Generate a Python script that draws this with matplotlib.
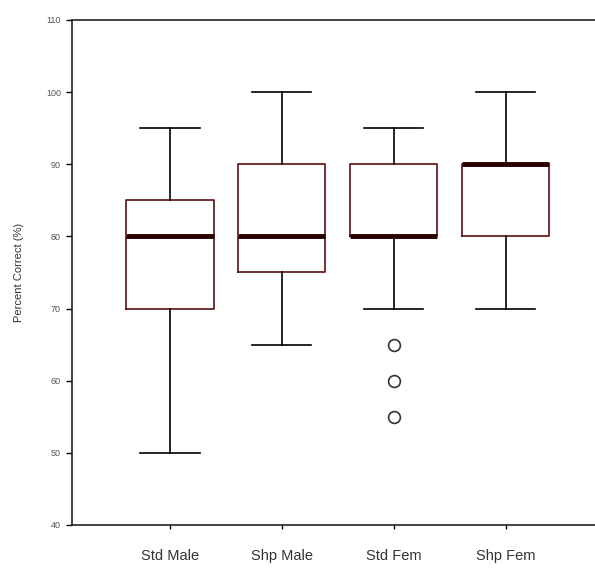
import matplotlib
matplotlib.use('Agg')
import matplotlib.pyplot as plt

plt.rcParams['font.family'] = ['Liberation Sans', 'DejaVu Sans']

# group labels and box statistics
groups = ['Std Male', 'Shp Male', 'Std Fem', 'Shp Fem']
whislo = [50, 65, 70, 70]
q1 = [70, 75, 80, 80]
med = [80, 80, 80, 90]
q3 = [85, 90, 90, 90]
whishi = [95, 100, 95, 100]
fliers = [[], [], [65, 60, 55], []]

stats = []
for i in range(len(groups)):
    stats.append({'label': groups[i], 'whislo': whislo[i], 'q1': q1[i], 'med': med[i],
                  'q3': q3[i], 'whishi': whishi[i], 'fliers': fliers[i]})

fig = plt.figure(figsize=(5.95, 5.7), dpi=100)
ax = fig.add_axes([0.121, 0.079, 0.879, 0.886])

ax.bxp(stats, positions=[1, 2, 3, 4], widths=0.78, showfliers=True,
       boxprops=dict(color='#5a1010', linewidth=1.2),
       medianprops=dict(color='#2a0000', linewidth=3.5),
       whiskerprops=dict(color='black', linewidth=1.2),
       capprops=dict(color='black', linewidth=1.2),
       capwidths=0.53,
       flierprops=dict(marker='o', markersize=8.5, markerfacecolor='white',
                       markeredgecolor='#333333', markeredgewidth=1.2))

ax.set_xlim(0.125, 4.8)
ax.set_ylim(40, 110)
ax.set_yticks(range(40, 111, 10))
ax.spines['right'].set_visible(False)
for s in ['left', 'top', 'bottom']:
    ax.spines[s].set_color('#222222')
    ax.spines[s].set_linewidth(1.2)

ax.tick_params(axis='y', labelsize=6.5, labelcolor='#555555', length=4, width=1, pad=4)
ax.tick_params(axis='x', labelsize=10.5, labelcolor='#333333', length=3, width=1, pad=14)
ax.set_ylabel('Percent Correct (%)', fontsize=8, color='#333333', labelpad=16)

plt.savefig('out.png', dpi=100)
